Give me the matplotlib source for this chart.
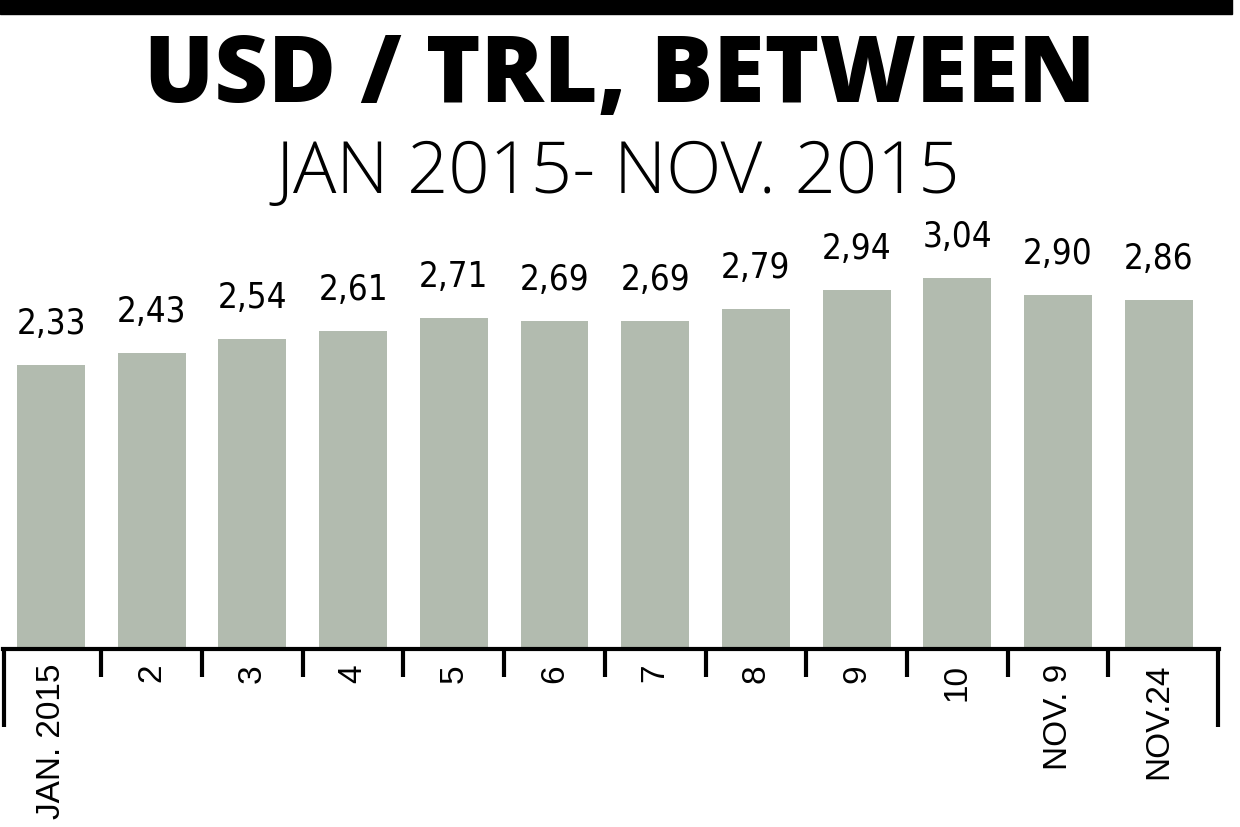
import matplotlib.pyplot as plt
from matplotlib.patches import Rectangle
import matplotlib.transforms as mtransforms

# data
labels = ["JAN. 2015", "2", "3", "4", "5", "6", "7", "8", "9", "10", "NOV. 9", "NOV.24"]
rates = [2.33, 2.43, 2.54, 2.61, 2.71, 2.69, 2.69, 2.79, 2.94, 3.04, 2.90, 2.86]
title = "USD / TRL, BETWEEN"
subtitle = "JAN 2015- NOV. 2015"

W, H = 1240, 828
fig = plt.figure(figsize=(W / 100, H / 100), dpi=100)
fig.patch.set_facecolor("white")

# black band at the top
fig.patches.append(Rectangle((0, 1 - 15 / H), 1232 / W, 15 / H,
                             transform=fig.transFigure, color="black"))

fig.text(620 / W, 1 - 78 / H, title, ha="center", va="center",
         fontsize=67, fontweight="heavy", family="Open Sans", color="black")
fig.text(618 / W, 1 - 174 / H, subtitle, ha="center", va="center",
         fontsize=52, fontweight="light", family="Open Sans", color="black")

# axes placed so that one data unit = one bar slot
ax_left, ax_right = 3, 1219
ax_bottom, ax_top = 650, 230
ax = fig.add_axes([ax_left / W, 1 - ax_bottom / H, (ax_right - ax_left) / W,
                   (ax_bottom - ax_top) / H])
pitch = 100.7
x0 = -(51 - ax_left) / pitch
x1 = x0 + (ax_right - ax_left) / pitch
ax.set_xlim(x0, x1)
ax.set_ylim(0, (ax_bottom - ax_top) / 122)

xs = list(range(len(rates)))
bars = ax.bar(xs, rates, width=0.675, color="#b2bbaf")

for x, v in zip(xs, rates):
    ax.annotate(f"{v:.2f}".replace(".", ","), (x, v), xytext=(0, 18),
                textcoords="offset points", ha="center", va="bottom",
                fontsize=25, family="DejaVu Sans", fontstretch="condensed")

for s in ["top", "left", "right"]:
    ax.spines[s].set_visible(False)
ax.spines["bottom"].set_linewidth(3)
ax.set_yticks([])

ax.set_xticks(xs)
ax.set_xticklabels(labels, rotation=90, va="top", ha="center",
                   fontsize=24, family="Liberation Sans")
ax.tick_params(axis="x", which="major", length=0, pad=10)
ax.set_xticks([x + 0.5 for x in xs[:-1]], minor=True)
ax.tick_params(axis="x", which="minor", length=20, width=3, direction="out")

# long end markers
trans = mtransforms.blended_transform_factory(ax.transData, ax.transAxes)
for xe in (x0 + 0.01, x1 - 0.01):
    ax.plot([xe, xe], [0, -78 / (ax_bottom - ax_top)], color="black", lw=3,
            transform=trans, clip_on=False, solid_capstyle="butt")

fig.savefig("out.png", dpi=100)
